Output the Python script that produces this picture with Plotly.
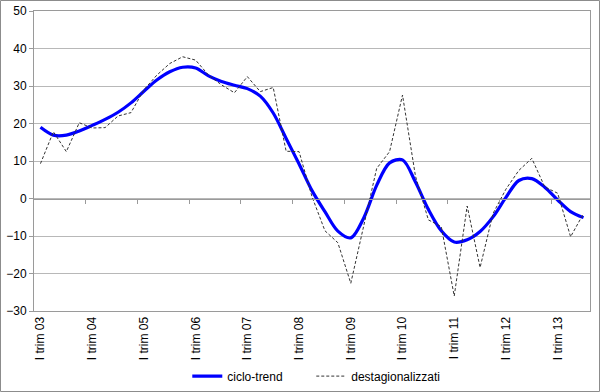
import plotly.graph_objects as go

# quarters I trim 03 .. III trim 13 (43 quarters)
quarter_index = list(range(43))
tick_positions = [0, 4, 8, 12, 16, 20, 24, 28, 32, 36, 40]
tick_labels = ["I trim 03", "I trim 04", "I trim 05", "I trim 06", "I trim 07", "I trim 08",
               "I trim 09", "I trim 10", "I trim 11", "I trim 12", "I trim 13"]
boundary_ticks = [3.5, 7.5, 11.5, 15.5, 19.5, 23.5, 27.5, 31.5, 35.5, 39.5]

ciclo_trend = [19.0, 16.9, 16.9, 18.0, 19.5, 21.1, 23.0, 25.5, 28.6, 31.6,
               33.8, 35.0, 34.8, 32.7, 31.2, 30.2, 29.3, 27.3, 22.8, 16.0,
               9.2, 2.1, -3.5, -8.7, -10.5, -5.2, 3.5, 9.5, 10.3, 4.4,
               -2.9, -8.6, -11.6, -11.0, -8.8, -4.9, 0.3, 4.8, 5.3, 3.0,
               -0.4, -3.5, -5.1]

destagionalizzati = [9.3, 17.8, 12.5, 20.2, 18.8, 18.9, 22.0, 22.9, 29.0, 32.9,
                     36.0, 37.8, 36.9, 32.9, 30.3, 28.2, 32.5, 28.5, 29.6, 12.6,
                     12.5, 0.5, -8.6, -11.8, -22.6, -7.5, 8.0, 12.5, 27.6, 6.0,
                     -5.7, -7.5, -26.0, -2.0, -18.4, -4.0, 2.5, 7.5, 10.7, 3.1,
                     1.4, -10.2, -4.0]

FONT = "Liberation Sans, Arial, sans-serif"
GRID = "#b8b8b8"
LINE = "#9a9a9a"

fig = go.Figure()
fig.add_trace(go.Scatter(
    x=quarter_index, y=ciclo_trend, name="ciclo-trend", mode="lines", legend="legend",
    line=dict(color="#0000ff", width=3.2, shape="spline", smoothing=0.9)))
fig.add_trace(go.Scatter(
    x=quarter_index, y=destagionalizzati, name="destagionalizzati", mode="lines",
    legend="legend2",
    line=dict(color="#333333", width=1, dash="3px,2px")))
fig.add_trace(go.Scatter(x=[], y=[], xaxis="x2", showlegend=False, hoverinfo="skip"))

legend_common = dict(orientation="h", xanchor="left", y=-0.217, yanchor="middle",
                     font=dict(family=FONT, size=12, color="#000000"),
                     itemwidth=30, bgcolor="rgba(0,0,0,0)")

fig.update_layout(
    width=600, height=392,
    margin=dict(l=34, r=10, t=11, b=81, autoexpand=False),
    paper_bgcolor="white", plot_bgcolor="white",
    font=dict(family=FONT, size=12, color="#000000"),
    showlegend=True,
    legend=dict(x=0.2757, **legend_common),
    legend2=dict(x=0.4987, **legend_common),
    xaxis=dict(range=[-0.5, 42.5], tickmode="array", tickvals=tick_positions,
               ticktext=tick_labels, tickangle=-90, ticks="", showgrid=False,
               zeroline=False, showline=True, mirror=True, linecolor=LINE, linewidth=1,
               automargin=False,
               tickfont=dict(family=FONT, size=12, color="#000000")),
    xaxis2=dict(range=[-0.5, 42.5], overlaying="x", anchor="free", position=0.375,
                side="bottom", tickmode="array", tickvals=boundary_ticks,
                ticks="outside", ticklen=4, tickcolor=LINE, showticklabels=False,
                automargin=False,
                showgrid=False, zeroline=False, showline=True, linecolor=LINE, linewidth=1),
    yaxis=dict(range=[-30, 50], dtick=10, tick0=0, showgrid=True, gridcolor=GRID,
               gridwidth=1, zeroline=False, showline=True, mirror=True, linecolor=LINE,
               linewidth=1, ticks="outside", ticklen=4, tickcolor=LINE, automargin=False,
               tickfont=dict(family=FONT, size=12, color="#000000")),
    shapes=[dict(type="rect", xref="paper", yref="paper",
                 x0=(0.5 - 34) / 556, x1=(599.5 - 34) / 556,
                 y0=-(391.5 - 311) / 300, y1=(311 - 0.5) / 300,
                 line=dict(color="#8c8c8c", width=1), layer="below")],
)

fig.write_html("out.html", config={"displayModeBar": False},
               post_script="document.body.style.margin='0';")
